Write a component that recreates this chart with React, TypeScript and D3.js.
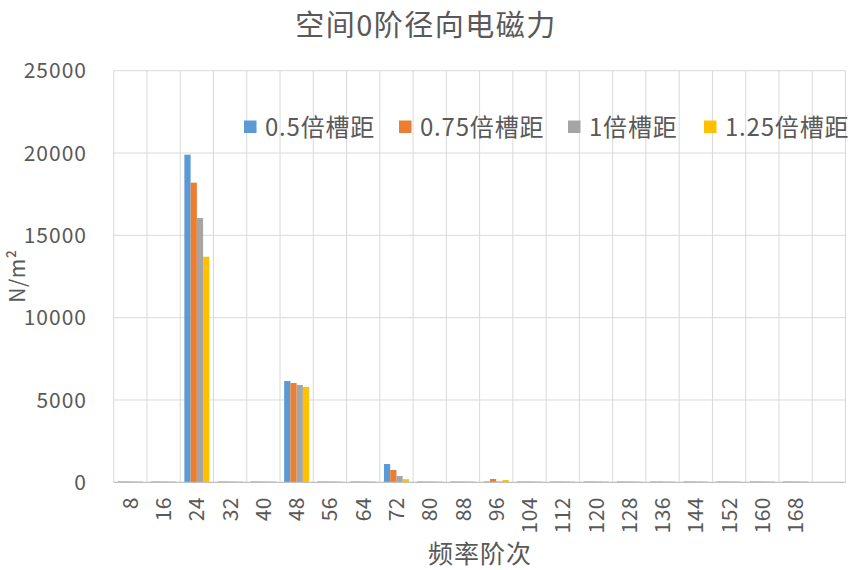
import { scaleBand, scaleLinear } from 'd3';

// Spatial order-0 radial force spectrum, four slot-pitch variants.
const categories = ['8', '16', '24', '32', '40', '48', '56', '64', '72', '80', '88', '96', '104', '112', '120', '128', '136', '144', '152', '160', '168', ''];
const seriesNames = ['0.5倍槽距', '0.75倍槽距', '1倍槽距', '1.25倍槽距'];
const colors = ['#5B9BD5', '#ED7D31', '#A5A5A5', '#FFC000'];

const pitch05 = [50, 50, 19900, 50, 50, 6150, 50, 50, 1110, 50, 50, 50, 50, 50, 50, 50, 50, 50, 50, 50, 50, 0];
const pitch075 = [50, 50, 18200, 50, 50, 6030, 50, 50, 750, 50, 50, 200, 50, 50, 50, 50, 50, 50, 50, 50, 50, 0];
const pitch1 = [50, 50, 16050, 50, 50, 5910, 50, 50, 380, 50, 50, 50, 50, 50, 50, 50, 50, 50, 50, 50, 50, 0];
const pitch125 = [50, 50, 13700, 50, 50, 5790, 50, 50, 190, 50, 50, 140, 50, 50, 50, 50, 50, 50, 50, 50, 50, 0];
const series = [pitch05, pitch075, pitch1, pitch125];

const yTicks = [0, 5000, 10000, 15000, 20000, 25000];

const W = 855;
const H = 570;
const font = '"Noto Sans CJK SC", "Noto Sans", sans-serif';
const ink = '#595959';

export default function App() {
  const left = 113.7;
  const right = 845.5;
  const top = 70.7;
  const bottom = 482.3;

  const x = scaleBand<string>().domain(categories.map((_c, i) => String(i))).range([left, right]).padding(0);
  const bw = x.bandwidth();
  const xi = scaleBand<string>().domain(seriesNames).range([0, bw]).paddingInner(0).paddingOuter(0.66);
  const y = scaleLinear().domain([0, 25000]).range([bottom, top]);

  // legend layout (measured positions from the reference)
  const legendX = [244, 399, 568, 704];

  return (
    <svg width={W} height={H} viewBox={`0 0 ${W} ${H}`} style={{ position: 'absolute', left: 0, top: 0, background: '#fff' }} fontFamily={font}>
      <rect width={W} height={H} fill="#fff" />
      <text x={426} y={36} textAnchor="middle" fill={ink} style={{ fontSize: 29, letterSpacing: 1.5 }}>
        空间0阶径向电磁力
      </text>

      {/* horizontal gridlines */}
      {yTicks.slice(1).map((t) => (
        <line key={t} x1={left} x2={right} y1={y(t)} y2={y(t)} stroke="#d9d9d9" strokeWidth={1} />
      ))}
      {/* vertical gridlines at category boundaries */}
      {categories.map((_c, i) => (
        <line key={i} x1={x(String(i))!} x2={x(String(i))!} y1={top} y2={bottom} stroke="#d9d9d9" strokeWidth={1} />
      ))}
      <line x1={right} x2={right} y1={top} y2={bottom} stroke="#d9d9d9" strokeWidth={1} />

      {/* bars */}
      {series.map((vals, s) =>
        vals.map((v, i) =>
          v > 0 ? (
            <rect
              key={`${s}-${i}`}
              x={x(String(i))! + xi(seriesNames[s])!}
              y={y(v)}
              width={xi.bandwidth()}
              height={bottom - y(v)}
              fill={colors[s]}
            />
          ) : null,
        ),
      )}

      <line x1={left} x2={right} y1={bottom} y2={bottom} stroke="#bfbfbf" strokeWidth={1.3} />

      {/* y tick labels */}
      {yTicks.map((t) => (
        <text key={t} x={87} y={y(t)} dy="0.36em" textAnchor="end" fill={ink} style={{ fontSize: 21, letterSpacing: 1 }}>
          {t}
        </text>
      ))}

      {/* x tick labels, rotated */}
      {categories.map((c, i) => (
        <text
          key={i}
          transform={`translate(${x(String(i))! + bw / 2},497) rotate(-90)`}
          dy="0.36em"
          textAnchor="end"
          fill={ink}
          style={{ fontSize: 21, letterSpacing: 0.5 }}
        >
          {c}
        </text>
      ))}

      <text x={480} y={563} textAnchor="middle" fill={ink} style={{ fontSize: 25, letterSpacing: 1 }}>
        频率阶次
      </text>
      <text transform="translate(18,276) rotate(-90)" textAnchor="middle" dy="0.35em" fill={ink} style={{ fontSize: 21, letterSpacing: 0.5 }}>
        N/m²
      </text>

      {/* legend */}
      {seriesNames.map((name, s) => (
        <g key={name}>
          <rect x={legendX[s]} y={120.5} width={12.5} height={12.5} fill={colors[s]} />
          <text x={legendX[s] + 21} y={127} dy="0.36em" fill={ink} style={{ fontSize: 24, letterSpacing: 0.8 }}>
            {name}
          </text>
        </g>
      ))}
    </svg>
  );
}
